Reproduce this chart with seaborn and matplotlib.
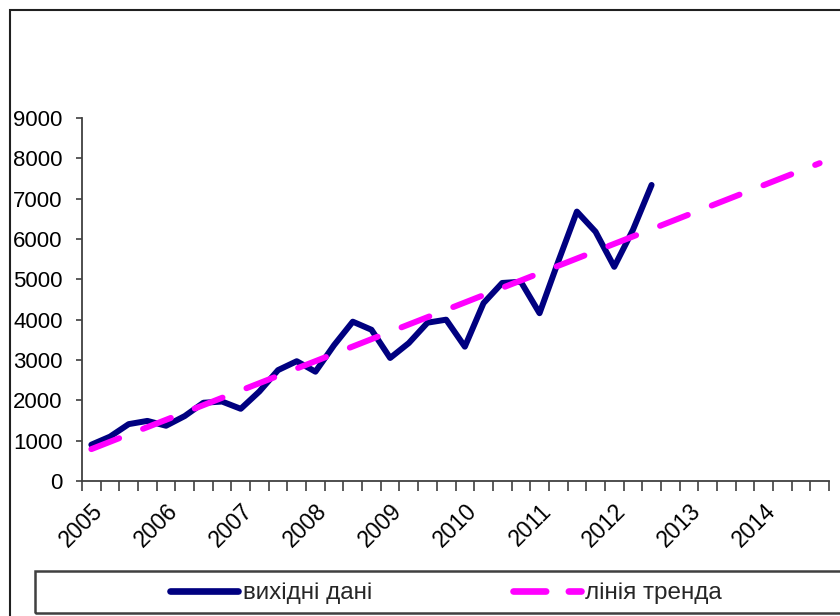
import numpy as np
import pandas as pd
import matplotlib
matplotlib.use("Agg")
import matplotlib.pyplot as plt
import seaborn as sns
from matplotlib.patches import Rectangle
from matplotlib.lines import Line2D
from matplotlib import font_manager

# ---- data ----
year_labels = ["2005", "2006", "2007", "2008", "2009", "2010", "2011", "2012", "2013", "2014"]
n_periods = 40  # quarters 2005Q1 .. 2014Q4
quarter_index = list(range(31))
source_values = [900, 1100, 1410, 1490, 1370, 1610, 1940, 1970, 1790, 2220,
                 2750, 2970, 2710, 3370, 3950, 3750, 3050, 3420, 3925, 4000,
                 3330, 4410, 4910, 4940, 4160, 5440, 6680, 6180, 5310, 6225,
                 7340]
trend_index = [0, 39]
trend_values = [790, 7880]
y_ticks = [0, 1000, 2000, 3000, 4000, 5000, 6000, 7000, 8000, 9000]
series_names = ["вихідні дані", "лінія тренда"]

sns.set_theme(style="white")
plt.rcParams["font.family"] = ["Liberation Sans", "DejaVu Sans"]

installed = {f.name for f in font_manager.fontManager.ttflist}
if "Liberation Sans Narrow" in installed:
    legend_family = ["Liberation Sans Narrow", "DejaVu Sans"]
    legend_size = 21
else:
    legend_family = ["Liberation Sans", "DejaVu Sans"]
    legend_size = 17.5

W, H = 840, 616
fig = plt.figure(figsize=(W / 100, H / 100), dpi=100)
ax = fig.add_axes([82 / W, (H - 481) / H, 747 / W, 363 / H])

navy = "#000080"
magenta = "#FF00FF"

df = pd.DataFrame({"q": quarter_index, "v": source_values})
sns.lineplot(data=df, x="q", y="v", ax=ax, color=navy, linewidth=4.3,
             solid_capstyle="round", solid_joinstyle="round")
tdf = pd.DataFrame({"q": trend_index, "v": trend_values})
sns.lineplot(data=tdf, x="q", y="v", ax=ax, color=magenta, linewidth=4.3)
tl = ax.lines[-1]
tl.set_dashes([5.0, 4.3])
tl.set_dash_capstyle("round")

ax.set_xlim(-0.5, n_periods - 0.5)
ax.set_ylim(0, 9000)
ax.set_yticks(y_ticks)
ax.set_yticklabels([str(t) for t in y_ticks], fontsize=16)
ax.set_xticks(list(range(0, n_periods, 4)))
ax.set_xticklabels(year_labels, fontsize=16.5, rotation=45, ha="right",
                   va="top", rotation_mode="anchor")
ax.set_xticks(np.arange(-0.5, n_periods, 1), minor=True)
ax.set_xlabel("")
ax.set_ylabel("")

for s in ["top", "right"]:
    ax.spines[s].set_visible(False)
for s in ["left", "bottom"]:
    ax.spines[s].set_color("#404040")
    ax.spines[s].set_linewidth(1.3)

ax.tick_params(axis="y", which="major", left=True, length=4.5, width=1.2,
               color="#404040", pad=9.5, labelcolor="black")
ax.tick_params(axis="x", which="major", bottom=True, length=0, pad=13,
               labelcolor="black")
ax.tick_params(axis="x", which="minor", bottom=True, length=7, width=1.2,
               color="#404040")

# outer chart border
fig.patches.append(Rectangle((10 / W, -0.1), 2.0, 1 - 10 / H + 0.1,
                             transform=fig.transFigure, fill=False,
                             edgecolor="#202020", linewidth=1.5))
# legend frame
fig.patches.append(Rectangle((35 / W, (H - 613) / H), (857 - 35) / W, 42 / H,
                             transform=fig.transFigure, fill=False,
                             edgecolor="#404040", linewidth=1.8))

h1 = Line2D([], [], color=navy, linewidth=4.8, solid_capstyle="round")
h2 = Line2D([], [], color=magenta, linewidth=4.8, dash_capstyle="round",
            dashes=[4.9, 3.4])
fig.legend([h1, h2], series_names, loc="center",
           bbox_to_anchor=(446 / W, (H - 593) / H), ncol=2, frameon=False,
           prop={"family": legend_family, "size": legend_size},
           handlelength=2.8, handletextpad=0.17, columnspacing=5.8)

fig.savefig("out.png", dpi=100)
